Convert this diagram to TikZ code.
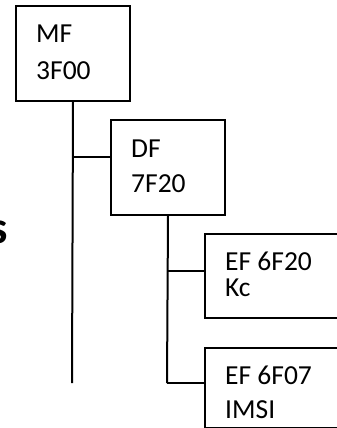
\documentclass[tikz,border=0pt]{standalone}
\usepackage{fontspec}
\setmainfont{Carlito}
\begin{document}
\begin{tikzpicture}[x=1pt,y=-1pt,
  box/.style={draw=black,line width=2pt,rectangle,inner sep=0pt,anchor=north west},
  lbl/.style={anchor=base west,inner sep=0pt,font=\fontsize{27.5}{34}\selectfont},
  conn/.style={draw=black,line width=2pt}]
\useasboundingbox (0,0) rectangle (337,428);
\clip (0,0) rectangle (337,428);
% boxes
\node[box,minimum width=114pt,minimum height=95pt] (mf) at (15,5) {};
\node[box,minimum width=114pt,minimum height=95pt] (df) at (110,119) {};
\node[box,minimum width=150pt,minimum height=84pt] (ef1) at (204,233) {};
\node[box,minimum width=150pt,minimum height=80pt] (ef2) at (204,347) {};
% texts
\node[lbl] (t1) at (36,43) {MF};
\node[lbl] (t2) at (36,79) {3F00};
\node[lbl] (t3) at (131,157) {DF};
\node[lbl] (t4) at (131,192) {7F20};
\node[lbl] (t5) at (225,270) {EF 6F20};
\node[lbl] (t6) at (225,296) {Kc};
\node[lbl] (t7) at (225,384) {EF 6F07};
\node[lbl] (t8) at (225,418) {IMSI};
\node[anchor=base east,inner sep=0pt,font=\fontsize{46}{50}\selectfont\bfseries] (s) at (8,243) {s};
% connectors
\coordinate (mfend) at (72,383);
\coordinate (j1) at (72,157);
\draw[conn] (mf.south) -- (mfend);
\draw[conn] (j1) -- (j1 -| df.west);
\coordinate (dfend) at (167,383);
\coordinate (j2) at (167,271);
\draw[conn] (df.south) -- (dfend);
\draw[conn] (j2) -- (j2 -| ef1.west);
\draw[conn] (dfend) -- (dfend -| ef2.west);
\end{tikzpicture}
\end{document}
